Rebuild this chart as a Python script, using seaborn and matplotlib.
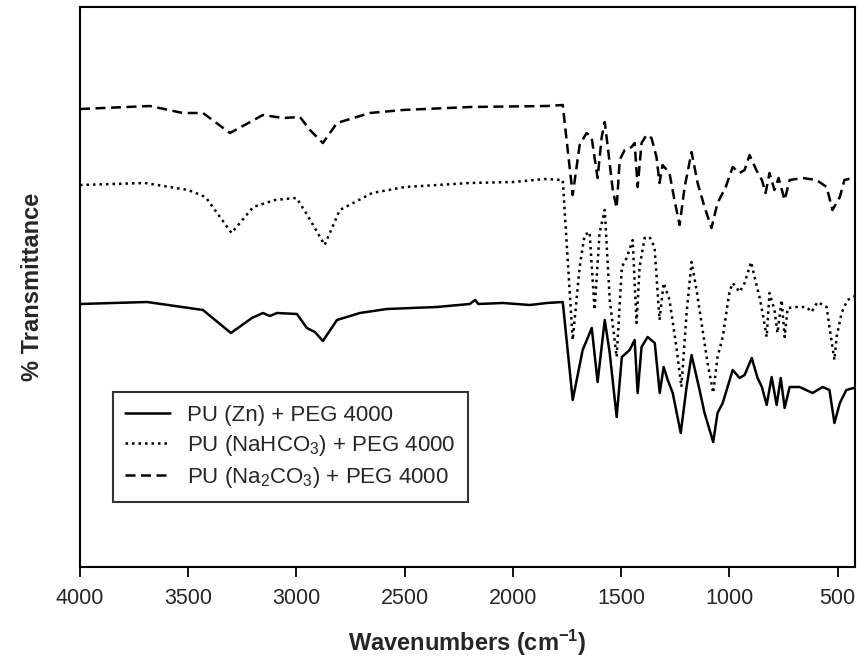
import numpy as np
import pandas as pd
import matplotlib
matplotlib.use("Agg")
import matplotlib.pyplot as plt
import seaborn as sns

# ---- data (transmittance in arbitrary offset units) ----
zn_wn = [4000, 3690, 3432, 3303, 3206, 3155, 3123, 3090, 2998, 2952, 2915, 2878, 2813, 2707,
         2583, 2352, 2200, 2175, 2160, 2047, 1922, 1844, 1770, 1724, 1678, 1636, 1609, 1576,
         1553, 1521, 1497, 1461, 1438, 1424, 1406, 1378, 1345, 1322, 1304, 1285, 1262, 1225,
         1198, 1175, 1138, 1115, 1075, 1055, 1031, 985, 953, 930, 897, 870, 850, 828, 805,
         782, 763, 745, 722, 676, 616, 570, 538, 515, 490, 460, 410]
zn_t = [263, 265, 257, 234, 249, 254, 251, 254, 253, 239, 235, 226, 247, 254,
        258, 260, 263, 267, 263, 264, 262, 264, 265, 167, 217, 239, 185, 247,
        214, 150, 210, 217, 227, 174, 220, 230, 224, 174, 200, 187, 174, 134,
        180, 212, 177, 154, 125, 154, 164, 197, 189, 192, 209, 189, 180, 162, 190,
        162, 189, 159, 180, 180, 174, 180, 177, 144, 164, 177, 180]

nahco3_wn = [4000, 3700, 3500, 3420, 3300, 3200, 3100, 3000, 2950, 2870, 2800, 2650, 2500,
             2200, 2000, 1850, 1770, 1724, 1692, 1669, 1646, 1623, 1600, 1576, 1553, 1521,
             1497, 1475, 1447, 1429, 1415, 1392, 1369, 1346, 1323, 1304, 1277, 1245, 1222,
             1198, 1175, 1152, 1124, 1101, 1075, 1055, 1031, 1000, 985, 953, 930, 900, 884,
             861, 847, 828, 815, 792, 778, 759, 745, 731, 690, 644, 621, 593, 551, 538, 515,
             505, 482, 455, 410]
nahco3_t = [382, 384, 377, 370, 334, 360, 367, 369, 352, 322, 357, 374, 380,
            384, 385, 388, 387, 227, 300, 332, 335, 257, 334, 357, 267, 210,
            300, 309, 327, 244, 300, 329, 330, 320, 247, 284, 267, 220, 180,
            254, 305, 277, 237, 204, 174, 210, 230, 275, 284, 275, 284, 305, 290,
            270, 254, 230, 274, 257, 234, 267, 230, 259, 260, 260, 255, 265, 260, 240, 207,
            230, 254, 267, 272]

na2co3_wn = [4000, 3677, 3525, 3432, 3307, 3155, 3063, 2984, 2938, 2878, 2813, 2661, 2509,
             2200, 1844, 1770, 1724, 1692, 1660, 1637, 1609, 1590, 1576, 1562, 1539, 1521,
             1507, 1484, 1452, 1438, 1424, 1406, 1383, 1360, 1337, 1323, 1309, 1277, 1254,
             1230, 1207, 1175, 1147, 1115, 1083, 1055, 1017, 985, 953, 930, 907, 876, 850,
             833, 815, 792, 773, 745, 722, 662, 598, 551, 524, 490, 469, 410]
na2co3_t = [458, 461, 454, 454, 434, 452, 449, 450, 437, 424, 444, 454, 457,
            460, 461, 462, 372, 422, 434, 430, 389, 430, 445, 420, 377, 359,
            407, 417, 420, 424, 380, 424, 432, 429, 410, 384, 402, 394, 367,
            342, 380, 415, 384, 360, 339, 364, 380, 400, 394, 397, 412, 397, 387,
            374, 394, 377, 389, 367, 387, 389, 387, 380, 357, 370, 387, 390]

labels = ["PU (Zn) + PEG 4000",
          "PU (NaHCO$_3$) + PEG 4000",
          "PU (Na$_2$CO$_3$) + PEG 4000"]
x_ticks = [4000, 3500, 3000, 2500, 2000, 1500, 1000, 500]

# ---- styling ----
sns.set_theme(style="white")
plt.rcParams["font.family"] = ["Liberation Sans", "DejaVu Sans"]
plt.rcParams["mathtext.fontset"] = "custom"
plt.rcParams["mathtext.rm"] = "Liberation Sans"
plt.rcParams["mathtext.it"] = "Liberation Sans:italic"
plt.rcParams["mathtext.bf"] = "Liberation Sans:bold"

fig = plt.figure(figsize=(8.57, 6.64), dpi=100)
ax = fig.add_axes([80 / 857, 1 - 567 / 664, 775 / 857, 560 / 664])

series = [
    (zn_wn, zn_t, "-", labels[0]),
    (nahco3_wn, nahco3_t, (0, (1, 1.6)), labels[1]),
    (na2co3_wn, na2co3_t, (0, (4, 2.2)), labels[2]),
]
for wn, t, ls, lab in series:
    df = pd.DataFrame({"wn": wn, "t": t})
    sns.lineplot(data=df, x="wn", y="t", ax=ax, color="black", linewidth=1.8,
                 linestyle=ls, sort=False, estimator=None, label=lab)

ax.set_xlim(4000, 420)
ax.set_ylim(0, 560)
ax.set_xticks(x_ticks)
ax.set_xticklabels([str(v) for v in x_ticks], fontsize=15.5)
ax.set_yticks([])
ax.tick_params(axis="x", direction="out", length=7, width=1.3, color="black",
               pad=8, bottom=True)
for s in ax.spines.values():
    s.set_color("black")
    s.set_linewidth(1.5)

ax.set_xlabel(r"Wavenumbers (cm$^{\mathbf{-1}}$)", fontsize=17, fontweight="bold",
              labelpad=14)
ax.set_ylabel("% Transmittance", fontsize=17, fontweight="bold", labelpad=26)

leg = ax.legend(loc="lower left", bbox_to_anchor=(33 / 775, 65 / 560),
                borderaxespad=0, fontsize=16, frameon=True, fancybox=False,
                edgecolor="black", handlelength=2.0, borderpad=0.55,
                labelspacing=0.32, handletextpad=0.8)
leg.get_frame().set_linewidth(1.5)

fig.savefig("out.png", dpi=100)
